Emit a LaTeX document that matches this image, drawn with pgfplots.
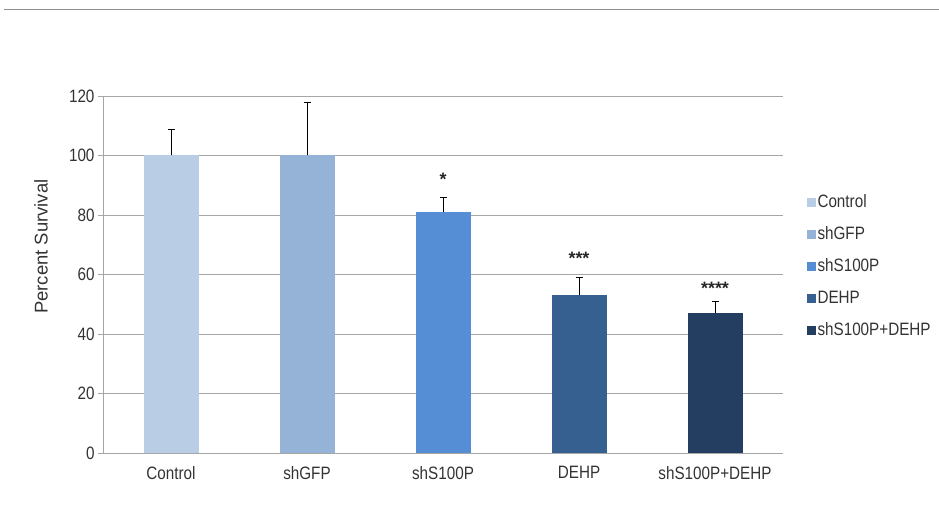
\documentclass[border=0pt]{standalone}
\usepackage{pgfplots}
\pgfplotsset{compat=1.18}
\usepackage{fontspec}
\setmainfont{Liberation Sans}
\newfontfamily\cond[FakeStretch=0.85]{Liberation Sans}
\definecolor{cA}{HTML}{B9CDE5}
\definecolor{cB}{HTML}{95B3D7}
\definecolor{cC}{HTML}{558ED5}
\definecolor{cD}{HTML}{36608F}
\definecolor{cE}{HTML}{233E60}
\definecolor{gridc}{HTML}{A6A6A6}
\begin{document}
\begin{tikzpicture}[x=1bp,y=1bp]
\path[use as bounding box] (0,0) rectangle (939,520);
\draw[gridc!85!black, line width=1.6bp] (4,510.5) -- (939,510.5);
\begin{axis}[
  at={(103bp,67bp)}, anchor=south west,
  scale only axis, width=680bp, height=357bp,
  xmin=-0.5, xmax=4.5, ymin=0, ymax=120,
  axis x line*=bottom, axis y line*=left,
  axis line style={gridc, -},
  ytick={0,20,...,120},
  ymajorgrids, grid style={gridc, line width=0.8bp},
  xtick={0,1,2,3,4},
  xticklabels={Control,shGFP,shS100P,DEHP,shS100P+DEHP},
  x tick style={draw=none},
  extra x ticks={-0.5,0.5,1.5,2.5,3.5,4.5},
  extra x tick labels={},
  extra x tick style={tick style={gridc, draw=gridc}, major tick length=5bp, tick align=outside, grid=none},
  y tick style={gridc},
  major tick length=5bp, tick align=outside,
  tick label style={font=\cond\fontsize{18}{20}\selectfont, text=black!80},
  /pgf/number format/assume math mode=true,
  ylabel={Percent Survival},
  ylabel style={font=\fontsize{18.5}{20}\selectfont, text=black!80, anchor=center, at={(axis description cs:-0.091,0.578)}},
  xticklabel style={yshift=-5bp},
  ybar, bar width=55bp,
  every axis plot/.append style={bar shift=0pt, draw=none},
  error bars/y dir=plus, error bars/y explicit,
  error bars/error bar style={black, line width=0.8bp},
  error bars/error mark options={rotate=90, black, mark size=3.5bp, line width=0.8bp},
  legend style={draw=none, fill=none, inner sep=0pt, at={(1.035,0.725)}, anchor=north west,
    font=\cond\fontsize{18}{20}\selectfont, text=black!80, row sep=16bp,
    nodes={inner xsep=1.5bp, inner ysep=0pt, text height=13bp, text depth=3bp}},
  legend cell align=left,
  legend image code/.code={\fill[#1] (0bp,-4.5bp) rectangle (9bp,4.5bp);},
]
\addplot[fill=cA] coordinates {(0,100) +- (0,8.8)};
\addplot[fill=cB] coordinates {(1,100) +- (0,18)};
\addplot[fill=cC] coordinates {(2,81) +- (0,5)};
\addplot[fill=cD] coordinates {(3,53) +- (0,6)};
\addplot[fill=cE] coordinates {(4,47) +- (0,4)};
\legend{Control,shGFP,shS100P,DEHP,shS100P+DEHP}
\node[font=\fontsize{18}{18}\selectfont\bfseries, text=black!85] at (axis cs:2,92) {*};
\node[font=\fontsize{18}{18}\selectfont\bfseries, text=black!85] at (axis cs:3,65.3) {***};
\node[font=\fontsize{18}{18}\selectfont\bfseries, text=black!85] at (axis cs:4,55.5) {****};
\end{axis}
\end{tikzpicture}
\end{document}
